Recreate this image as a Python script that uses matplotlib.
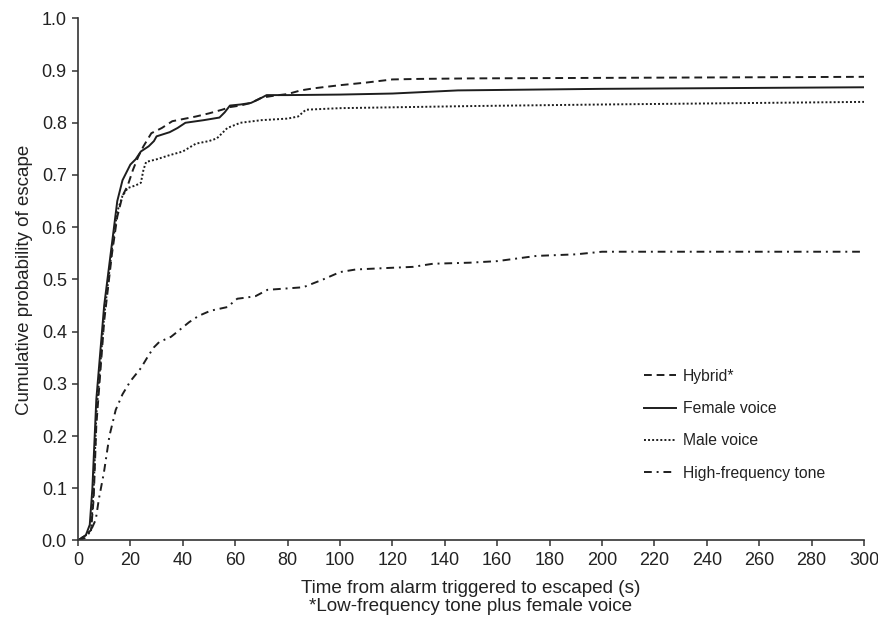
import matplotlib
matplotlib.use("Agg")
import matplotlib.pyplot as plt

plt.rcParams['font.family'] = ['Liberation Sans', 'DejaVu Sans']

# Data
t_hybrid = [0, 3, 5, 6, 7, 10, 13, 15, 17, 19, 21, 23, 25, 28, 32, 36, 40, 45, 50, 55, 58, 62, 66, 70, 75, 80, 85, 90, 100, 110, 120, 130, 150, 200, 300]
y_hybrid = [0, 0.01, 0.02, 0.08, 0.22, 0.42, 0.55, 0.62, 0.66, 0.68, 0.71, 0.735, 0.755, 0.78, 0.79, 0.803, 0.807, 0.812, 0.818, 0.825, 0.83, 0.833, 0.838, 0.848, 0.852, 0.855, 0.862, 0.866, 0.872, 0.877, 0.883, 0.884, 0.885, 0.886, 0.888]

t_female = [0, 3, 4.5, 5.5, 7, 10, 13, 15, 17, 20, 22, 24, 27, 29, 30, 35, 38, 41, 48, 54, 56, 58, 62, 66, 69, 72, 80, 100, 120, 145, 200, 300]
y_female = [0, 0.01, 0.03, 0.1, 0.27, 0.45, 0.57, 0.65, 0.69, 0.72, 0.73, 0.745, 0.755, 0.765, 0.774, 0.782, 0.79, 0.80, 0.805, 0.81, 0.82, 0.833, 0.835, 0.838, 0.845, 0.853, 0.853, 0.854, 0.856, 0.862, 0.865, 0.868]

t_male = [0, 3, 5, 6, 7, 10, 13, 15, 17, 19, 22, 24, 25, 26, 30, 35, 40, 45, 50, 53, 57, 62, 70, 80, 84, 87, 100, 150, 200, 300]
y_male = [0, 0.01, 0.02, 0.1, 0.24, 0.43, 0.56, 0.63, 0.66, 0.675, 0.68, 0.685, 0.71, 0.725, 0.73, 0.738, 0.745, 0.76, 0.765, 0.77, 0.79, 0.80, 0.805, 0.808, 0.812, 0.825, 0.828, 0.832, 0.835, 0.84]

t_tone = [0, 3, 5, 6.8, 8, 9.9, 12, 14.4, 17, 20, 24, 27, 29, 31, 35.5, 38, 42.4, 46, 50.6, 57, 60.8, 64, 67.8, 72.3, 80.6, 86, 93.6, 100, 106, 118.7, 127.8, 135.5, 149.5, 160, 175, 190, 200, 300]
y_tone = [0, 0.005, 0.02, 0.04, 0.08, 0.13, 0.2, 0.25, 0.28, 0.305, 0.33, 0.355, 0.37, 0.38, 0.39, 0.40, 0.418, 0.43, 0.44, 0.447, 0.463, 0.465, 0.468, 0.48, 0.483, 0.485, 0.50, 0.514, 0.519, 0.522, 0.524, 0.53, 0.532, 0.535, 0.545, 0.548, 0.553, 0.553]

labels = ["Hybrid*", "Female voice", "Male voice", "High-frequency tone"]
x_ticks = list(range(0, 301, 20))
y_ticks = [0.0, 0.1, 0.2, 0.3, 0.4, 0.5, 0.6, 0.7, 0.8, 0.9, 1.0]

col = '#1e1e1e'
fig = plt.figure(figsize=(8.79, 6.18), dpi=100)
ax = fig.add_axes([0.0887, 0.1255, 0.8943, 0.8448])

lw = 1.4
ax.plot(t_hybrid, y_hybrid, color=col, lw=lw, dashes=(4, 2.5), label=labels[0])
ax.plot(t_female, y_female, color=col, lw=lw, linestyle='-', label=labels[1])
ax.plot(t_male, y_male, color=col, lw=lw, dashes=(1, 1.1), label=labels[2])
ax.plot(t_tone, y_tone, color=col, lw=lw, dashes=(4, 2.5, 1, 2.5), label=labels[3])

ax.set_xlim(0, 300)
ax.set_ylim(0, 1.0)
ax.set_xticks(x_ticks)
ax.set_yticks(y_ticks)
ax.set_yticklabels([f"{v:.1f}" for v in y_ticks])
for s in ['top', 'right']:
    ax.spines[s].set_visible(False)
for s in ['left', 'bottom']:
    ax.spines[s].set_color('#333333')
    ax.spines[s].set_linewidth(1.2)
ax.tick_params(axis='both', direction='out', length=4, width=1.1, color='#333333',
               labelsize=13, labelcolor='#222222', pad=4)

ax.set_xlabel("Time from alarm triggered to escaped (s)\n*Low-frequency tone plus female voice",
              fontsize=13.6, color='#222222', labelpad=8, linespacing=1.1)
ax.set_ylabel("Cumulative probability of escape", fontsize=13.5, color='#222222', labelpad=6)

leg = ax.legend(loc='upper left', bbox_to_anchor=(640 / 879 - 0.004, 1 - 361 / 618),
                bbox_transform=fig.transFigure, frameon=False, fontsize=11.3,
                handlelength=2.0, handletextpad=0.45, labelspacing=1.1, borderpad=0)
for txt in leg.get_texts():
    txt.set_color('#222222')

fig.savefig("out.png", dpi=100)
